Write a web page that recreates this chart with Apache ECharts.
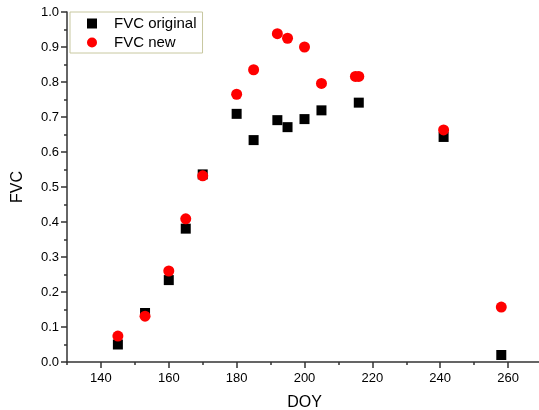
<!DOCTYPE html>
<html>
<head>
<meta charset="utf-8">
<script src="https://cdn.jsdelivr.net/npm/echarts@6/dist/echarts.min.js"></script>
<style>
html, body { margin: 0; padding: 0; background: #fff; }
#chart { width: 539px; height: 410px; }
</style>
</head>
<body>
<div id="chart"></div>
<script>
// DOY / FVC
var doyOriginal = [145, 153, 160, 165, 170, 180, 185, 192, 195, 200, 205, 216, 241, 258];
var fvcOriginal = [0.050, 0.140, 0.234, 0.381, 0.536, 0.709, 0.634, 0.691, 0.671, 0.694, 0.719, 0.741, 0.643, 0.020];

var doyNew = [145, 153, 160, 165, 170, 180, 185, 192, 195, 200, 205, 215, 216, 241, 258];
var fvcNew = [0.074, 0.131, 0.260, 0.409, 0.532, 0.765, 0.835, 0.938, 0.925, 0.900, 0.796, 0.816, 0.816, 0.663, 0.157];

var xMajorLabels = [140, 160, 180, 200, 220, 240, 260];

function pairs(xs, ys) {
    var list = [];
    for (var i = 0; i < xs.length; i++) {
        list.push([xs[i], ys[i]]);
    }
    return list;
}

window.onload = function () {
    var myChart = echarts.init(document.getElementById('chart'));
    var font = 'Liberation Sans, Arial, sans-serif';
    var axisColor = '#333';

    var option = {
        animation: false,
        textStyle: { fontFamily: font },
        grid: { left: 67, right: -3, top: 12, bottom: 48, outerBoundsMode: 'none' },
        legend: {
            orient: 'vertical',
            left: 70,
            top: 12,
            padding: [4, 6, 3, 17],
            itemGap: 4,
            itemWidth: 10,
            itemHeight: 10,
            borderColor: '#c8c8a0',
            borderWidth: 1,
            backgroundColor: '#fff',
            textStyle: { fontSize: 15, color: '#000', padding: [0, 0, 0, 12] },
            data: [
                { name: 'FVC original', icon: 'rect' },
                { name: 'FVC new', icon: 'circle' }
            ]
        },
        xAxis: [
            {
                type: 'value',
                min: 130,
                max: 270,
                interval: 10,
                name: 'DOY',
                nameLocation: 'middle',
                nameGap: 33,
                nameTextStyle: { fontSize: 16, color: '#000' },
                axisLine: { show: true, lineStyle: { color: axisColor, width: 1.5 } },
                axisTick: { show: true, length: 6, lineStyle: { color: axisColor, width: 1.5 }, customValues: xMajorLabels },
                axisLabel: { fontSize: 13, color: '#000', margin: 10, customValues: xMajorLabels },
                splitLine: { show: false }
            },
            {
                type: 'value',
                min: 130,
                max: 270,
                interval: 10,
                position: 'bottom',
                axisLine: { show: false },
                axisTick: { show: true, length: 3, lineStyle: { color: axisColor, width: 1.5 } },
                axisLabel: { show: false },
                splitLine: { show: false }
            }
        ],
        yAxis: {
            type: 'value',
            min: 0,
            max: 1,
            interval: 0.1,
            name: 'FVC',
            nameLocation: 'middle',
            nameGap: 41,
            nameTextStyle: { fontSize: 16, color: '#000' },
            axisLine: { show: true, lineStyle: { color: axisColor, width: 1.5 } },
            axisTick: { show: true, length: 6, lineStyle: { color: axisColor, width: 1.5 } },
            minorTick: { show: true, splitNumber: 2, length: 3, lineStyle: { color: axisColor, width: 1.5 } },
            axisLabel: {
                fontSize: 13,
                color: '#000',
                margin: 8,
                formatter: function (v) { return v.toFixed(1); }
            },
            splitLine: { show: false }
        },
        series: [
            {
                name: 'FVC original',
                type: 'scatter',
                symbol: 'rect',
                symbolSize: 10,
                itemStyle: { color: '#000', opacity: 1 },
                data: pairs(doyOriginal, fvcOriginal)
            },
            {
                name: 'FVC new',
                type: 'scatter',
                symbol: 'circle',
                symbolSize: 11,
                itemStyle: { color: '#ff0000', opacity: 1 },
                data: pairs(doyNew, fvcNew)
            }
        ]
    };

    myChart.setOption(option);
};
</script>
</body>
</html>
